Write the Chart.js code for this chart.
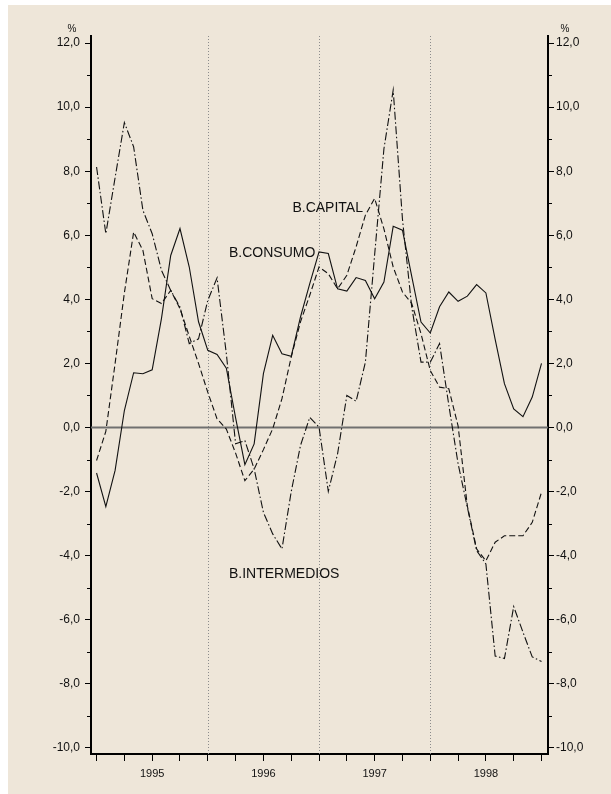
<!DOCTYPE html>
<html>
<head>
<meta charset="utf-8">
<script src="https://cdn.jsdelivr.net/npm/chart.js@4.4.1/dist/chart.umd.min.js"></script>
<style>
  html, body { margin: 0; padding: 0; background: #fff; }
  canvas { display: block; }
</style>
</head>
<body>
<canvas id="grafico" width="611" height="794"></canvas>
<script>
// tasas de variacion (%) mensuales, ene 1995 - ene 1999 (indice 0..48)
const anios = ['1995', '1996', '1997', '1998'];

const consumo = [
  -1.42, -2.47, -1.34, 0.53, 1.71, 1.68, 1.80, 3.40, 5.37, 6.21, 5.01, 3.30,
  2.41, 2.28, 1.85, 0.30, -1.16, -0.51, 1.68, 2.88, 2.30, 2.22, 3.45, 4.49,
  5.48, 5.43, 4.33, 4.26, 4.68, 4.59, 4.02, 4.54, 6.28, 6.16, 4.72, 3.29,
  2.95, 3.77, 4.23, 3.94, 4.10, 4.46, 4.20, 2.75, 1.37, 0.58, 0.34, 0.95,
  2.00
];
const capital = [
  -1.03, -0.12, 2.00, 4.20, 6.10, 5.53, 4.02, 3.87, 4.28, 3.71, 2.85, 2.00,
  1.10, 0.27, -0.05, -0.80, -1.66, -1.30, -0.69, -0.04, 0.90, 2.20, 3.30, 4.13,
  5.01, 4.80, 4.33, 4.75, 5.64, 6.63, 7.15, 6.20, 5.01, 4.23, 3.87, 2.93,
  1.78, 1.26, 1.21, 0.05, -2.45, -3.79, -4.16, -3.58, -3.38, -3.38, -3.38, -2.96,
  -2.02
];
const intermedios = [
  8.13, 6.05, 7.80, 9.52, 8.76, 6.78, 6.05, 4.91, 4.28, 3.76, 2.62, 2.77,
  3.97, 4.67, 2.30, -0.51, -0.41, -1.29, -2.65, -3.32, -3.79, -2.00, -0.56, 0.32,
  0.01, -1.99, -0.82, 1.00, 0.82, 2.04, 5.40, 8.70, 10.53, 6.50, 3.76, 2.04,
  2.04, 2.62, 0.70, -1.13, -2.49, -3.84, -4.26, -7.13, -7.21, -5.59, -6.39, -7.16,
  -7.30
];

const ticksY = [-10, -8, -6, -4, -2, 0, 2, 4, 6, 8, 10, 12];
const ticksX = [0, 3, 6, 9, 12, 15, 18, 21, 24, 27, 30, 33, 36, 39, 42, 45, 48];
const posAnios = [6, 18, 30, 42];
const lineasAnio = [12, 24, 36];

const FUENTE = "'Liberation Sans', Arial, sans-serif";
const fmt = v => v.toFixed(1).replace('.', ',');

function serie(nombre, valores, trazo) {
  return {
    label: nombre,
    data: valores.map((v, i) => ({ x: i, y: v })),
    borderColor: '#111',
    borderWidth: 1.1,
    borderDash: trazo,
    pointRadius: 0,
    tension: 0,
    fill: false
  };
}

// fondo beige con margen blanco
const fondo = {
  id: 'fondo',
  beforeDraw(chart) {
    const c = chart.ctx;
    c.save();
    c.fillStyle = '#fff';
    c.fillRect(0, 0, chart.width, chart.height);
    c.fillStyle = '#EEE6D9';
    c.fillRect(8, 5, chart.width - 8, chart.height - 5);
    c.restore();
  }
};

const extras = {
  id: 'extras',
  beforeDatasetsDraw(chart) {
    const { ctx, chartArea: a, scales: { x, y } } = chart;
    ctx.save();
    // separadores de año punteados
    ctx.strokeStyle = '#8c8c8c';
    ctx.lineWidth = 1;
    ctx.setLineDash([1, 2]);
    lineasAnio.forEach(m => {
      const px = Math.round(x.getPixelForValue(m)) + 0.5;
      ctx.beginPath();
      ctx.moveTo(px, a.top);
      ctx.lineTo(px, a.bottom);
      ctx.stroke();
    });
    ctx.setLineDash([]);
    // linea del cero
    const y0 = y.getPixelForValue(0);
    ctx.strokeStyle = '#707070';
    ctx.lineWidth = 2;
    ctx.beginPath();
    ctx.moveTo(a.left, y0);
    ctx.lineTo(a.right, y0);
    ctx.stroke();
    // marcas menores en los valores impares
    ctx.strokeStyle = '#000';
    ctx.lineWidth = 1;
    for (let v = -9; v <= 11; v += 2) {
      const py = Math.round(y.getPixelForValue(v)) + 0.5;
      ctx.beginPath();
      ctx.moveTo(a.left - 4, py); ctx.lineTo(a.left - 1, py);
      ctx.moveTo(a.right + 1, py); ctx.lineTo(a.right + 4, py);
      ctx.stroke();
    }
    ctx.restore();
  },
  afterDatasetsDraw(chart) {
    const { ctx, chartArea: a, scales: { x, y } } = chart;
    ctx.save();
    ctx.fillStyle = '#111';
    ctx.textBaseline = 'middle';
    ctx.font = '10px ' + FUENTE;
    ctx.textAlign = 'center';
    const yp = y.getPixelForValue(12) - 14;
    ctx.fillText('%', a.left - 19, yp);
    ctx.fillText('%', a.right + 17, yp);

    ctx.font = '14px ' + FUENTE;
    ctx.textAlign = 'right';
    ctx.fillText('B.CAPITAL', x.getPixelForValue(28.74), y.getPixelForValue(6.84));
    ctx.fillText('B.CONSUMO', x.getPixelForValue(23.6), y.getPixelForValue(5.44));
    ctx.textAlign = 'left';
    ctx.fillText('B.INTERMEDIOS', x.getPixelForValue(14.28), y.getPixelForValue(-4.59));
    ctx.restore();
  }
};

function ejeY(posicion, ancho) {
  return {
    type: 'linear',
    axis: 'y',
    position: posicion,
    min: -10.19,
    max: 12.22,
    afterBuildTicks: s => { s.ticks = ticksY.map(v => ({ value: v })); },
    afterFit: s => { s.width = ancho; },
    ticks: {
      padding: posicion === 'left' ? 5 : 2,
      color: '#111',
      font: { family: FUENTE, size: 12 },
      callback: v => fmt(v)
    },
    grid: { drawOnChartArea: false, tickLength: 6, tickColor: '#000', tickWidth: 1 },
    border: { color: '#000', width: 2 }
  };
}

new Chart(document.getElementById('grafico'), {
  type: 'line',
  data: {
    datasets: [
      serie('B.CONSUMO', consumo, []),
      serie('B.CAPITAL', capital, [6, 3]),
      serie('B.INTERMEDIOS', intermedios, [8, 2.5, 1.5, 2.5])
    ]
  },
  options: {
    responsive: false,
    devicePixelRatio: 1,
    animation: false,
    layout: { padding: { top: 36, left: 0, right: 0, bottom: 0 } },
    plugins: { legend: { display: false }, tooltip: { enabled: false } },
    scales: {
      x: {
        type: 'linear',
        min: -0.6,
        max: 48.7,
        afterBuildTicks: s => { s.ticks = ticksX.map(v => ({ value: v })); },
        afterFit: s => { s.height = 40; },
        ticks: {
          autoSkip: false,
          maxRotation: 0,
          padding: 6,
          color: '#111',
          font: { family: FUENTE, size: 11 },
          callback: v => {
            const k = posAnios.indexOf(v);
            return k >= 0 ? anios[k] : '';
          }
        },
        grid: { drawOnChartArea: false, tickLength: 7, tickColor: '#000', tickWidth: 1 },
        border: { color: '#000', width: 2 }
      },
      y: ejeY('left', 91),
      y2: ejeY('right', 63)
    }
  },
  plugins: [fondo, extras]
});
</script>
</body>
</html>
